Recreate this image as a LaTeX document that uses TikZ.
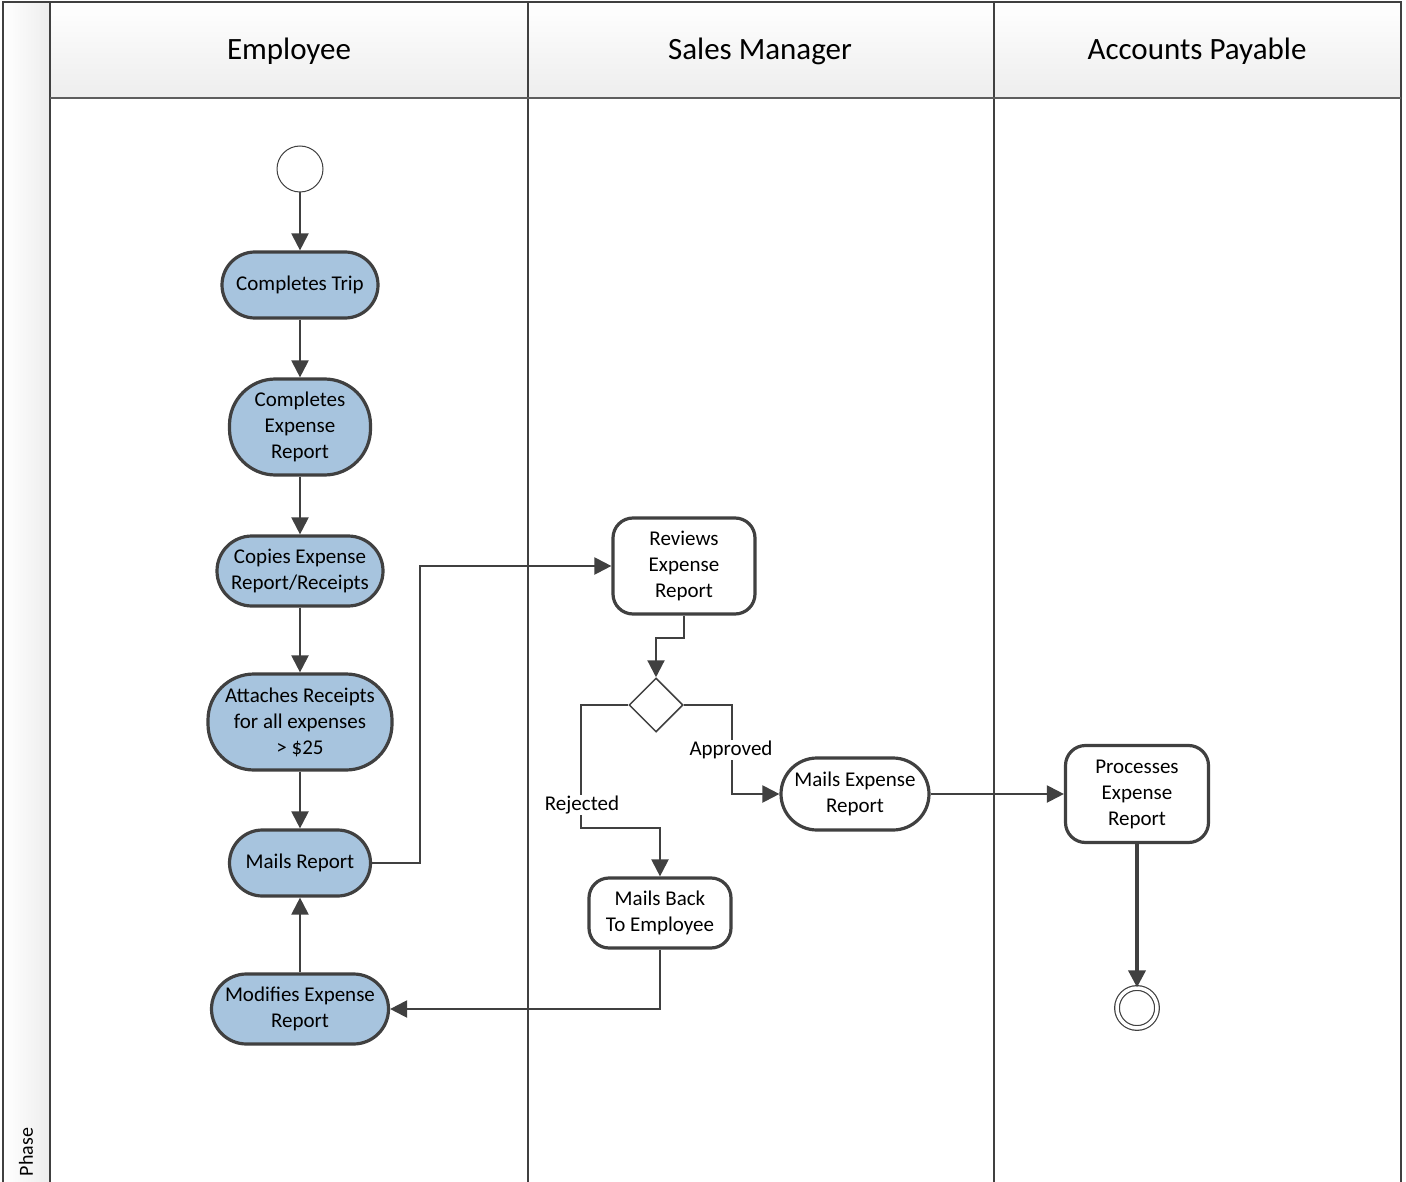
\documentclass[tikz,border=0pt]{standalone}
\usepackage{fontspec}
\setmainfont{Carlito}
\usetikzlibrary{arrows.meta,shapes.geometric,calc}
\definecolor{ln}{HTML}{404040}
\definecolor{actfill}{HTML}{A7C4DE}
\definecolor{hdr}{HTML}{EDEDED}
\begin{document}
\begin{tikzpicture}[x=1pt,y=-1pt,
  every node/.style={font=\fontsize{21}{26}\selectfont, align=center, inner sep=0pt},
  act/.style={draw=ln, line width=3.2pt, fill=actfill, rectangle, rounded corners=#1},
  task/.style={draw=ln, line width=3.2pt, fill=white, rectangle, rounded corners=20pt},
  conn/.style={draw=ln, line width=2.2pt, -{Triangle[length=17pt,width=17pt]}},
  lbl/.style={fill=white, inner sep=1pt},
  hdrtext/.style={font=\fontsize{31}{36}\selectfont},
  lane/.style={draw=ln, line width=2.6pt}
]
\useasboundingbox (0,0) rectangle (1406,1182);
\fill[white] (0,0) rectangle (1406,1182);
% headers
\shade[top color=white, bottom color=hdr] (50,2) rectangle (1402,98);
\shade[left color=white, right color=hdr] (3,2) rectangle (50,1182);
\node[hdrtext] (hE) at (289,51.5) {Employee};
\node[hdrtext] (hS) at (760,51.5) {Sales Manager};
\node[hdrtext] (hA) at (1197,51.5) {Accounts Payable};
\node[rotate=90, font=\fontsize{20}{24}\selectfont] (ph) at (26,1152) {Phase};
% lane lines
\draw[lane] (3,1190) -- (3,2) -- (1401,2) -- (1401,1190);
\draw[lane] (50,2) -- (50,1190);
\draw[lane] (528,2) -- (528,1190);
\draw[lane] (994,2) -- (994,1190);
\draw[draw=ln!85, line width=2.6pt] (50,98) -- (1401,98);
% nodes
\node[circle, draw=ln, line width=1pt, fill=white, minimum size=46pt] (start) at (300,169) {};
\node[act=33pt, minimum width=156pt, minimum height=66pt] (ct) at (300,285) {Completes Trip};
\node[act=46pt, minimum width=141pt, minimum height=96pt] (cer) at (300,427) {Completes\\Expense\\Report};
\node[act=35pt, minimum width=166pt, minimum height=70pt] (cp) at (300,571) {Copies Expense\\Report/Receipts};
\node[act=46pt, minimum width=184pt, minimum height=96pt] (at) at (300,722) {Attaches Receipts\\for all expenses\\> \$25};
\node[act=33pt, minimum width=141pt, minimum height=66pt] (mr) at (300,863) {Mails Report};
\node[act=35pt, minimum width=177pt, minimum height=70pt] (mod) at (300,1009) {Modifies Expense\\Report};
\node[task, minimum width=142pt, minimum height=96pt] (rev) at (684,566) {Reviews\\Expense\\Report};
\node[diamond, draw=ln, line width=1.5pt, fill=white, minimum width=54pt, minimum height=54pt] (dec) at (656,705) {};
\node[act=36pt, fill=white, minimum width=148pt, minimum height=72pt] (mexp) at (855,794) {Mails Expense\\Report};
\node[task, minimum width=142pt, minimum height=70pt] (mb) at (660,913) {Mails Back\\To Employee};
\node[task, minimum width=143pt, minimum height=97pt] (pr) at (1137,794) {Processes\\Expense\\Report};
\node[circle, draw=ln, line width=1.2pt, double, double distance=3.5pt, fill=white, minimum size=40pt] (end) at (1137,1008) {};
% connectors
\draw[conn] (start) -- (ct);
\draw[conn] (ct) -- (cer);
\draw[conn] (cer) -- (cp);
\draw[conn] (cp) -- (at);
\draw[conn] (at) -- (mr);
\draw[conn] (mod) -- (mr);
\draw[conn] (mr.east) -- ++(48,0) |- (rev.west);
\draw[conn] (rev.south) -- ++(0,22) -| (dec.north);
\draw[conn] (dec.west) -- ++(-47,0) -- ++(0,123) -| (mb.north);
\draw[conn] (dec.east) -- ++(48,0) |- (mexp.west);
\draw[conn] (mexp.east) -- (pr.west);
\draw[conn] (mb.south) |- (mod.east);
\draw[conn, line width=3.6pt] (pr.south) -- (end.north);
\node[lbl] (rej) at (582,805) {Rejected};
\node[lbl] (app) at (731,750) {Approved};
\end{tikzpicture}
\end{document}
